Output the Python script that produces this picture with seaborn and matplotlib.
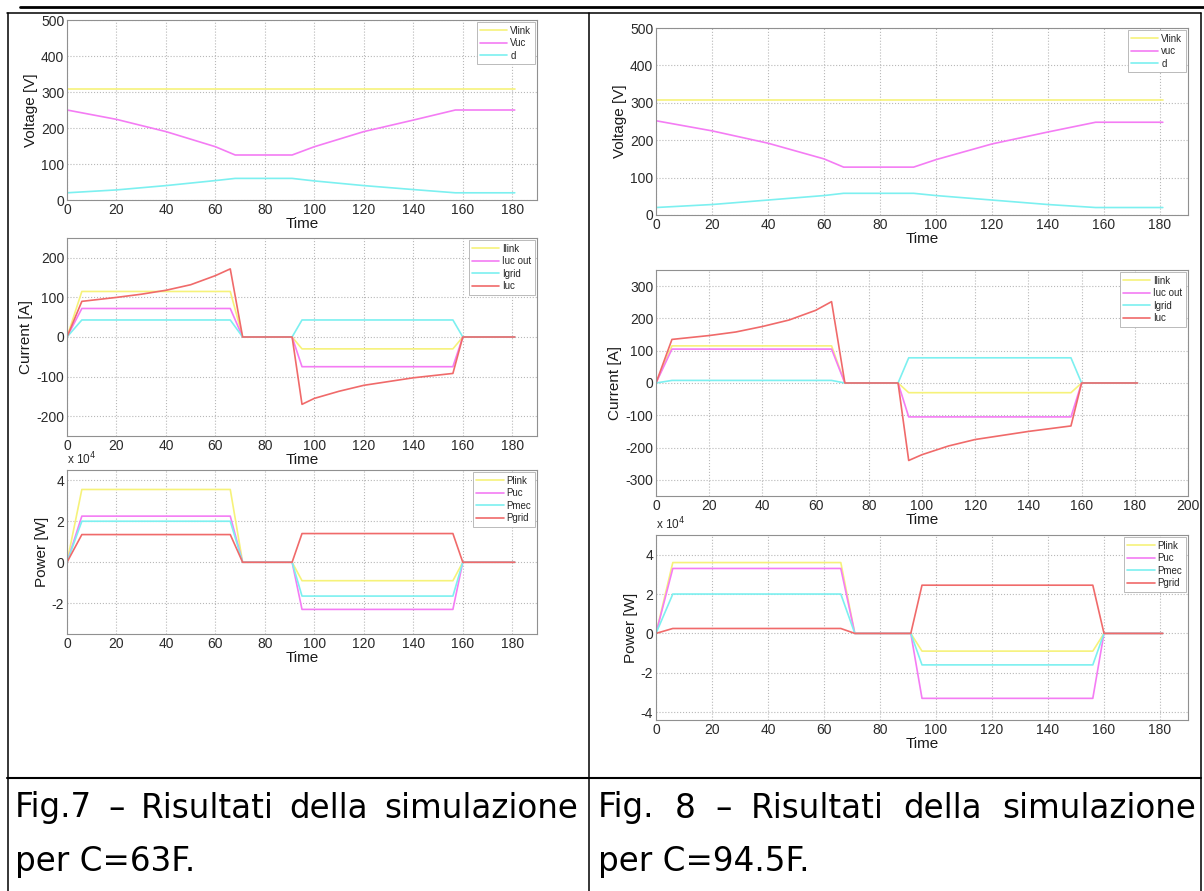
import matplotlib
matplotlib.use("Agg")
import matplotlib.pyplot as plt
import seaborn as sns
from matplotlib.lines import Line2D
from matplotlib.ticker import FuncFormatter

# ---- Fig.7  (C = 63F) ----
t_vlink = [0, 181]
vlink7 = [308, 308]
t_v7 = [0, 20, 40, 60, 68, 91, 100, 120, 140, 157, 181]
vuc7 = [250, 224, 190, 148, 125, 125, 148, 190, 222, 250, 250]
d7 = [20, 28, 40, 54, 60, 60, 53, 40, 29, 20, 20]

t_step = [0, 6, 66, 71, 91, 95, 156, 160, 181]
ilink7 = [0, 115, 115, 0, 0, -30, -30, 0, 0]
iucout7 = [0, 72, 72, 0, 0, -75, -75, 0, 0]
igrid7 = [0, 43, 43, 0, 0, 43, 43, 0, 0]
t_iuc7 = [0, 6, 20, 30, 40, 50, 60, 66, 71, 91, 95, 100, 110, 120, 140, 156, 160, 181]
iuc7 = [0, 90, 100, 108, 118, 132, 155, 172, 0, 0, -170, -155, -137, -122, -103, -92, 0, 0]

plink7 = [0, 35500, 35500, 0, 0, -9000, -9000, 0, 0]
puc7 = [0, 22500, 22500, 0, 0, -23000, -23000, 0, 0]
pmec7 = [0, 20000, 20000, 0, 0, -16500, -16500, 0, 0]
pgrid7 = [0, 13500, 13500, 0, 0, 14000, 14000, 0, 0]

# ---- Fig.8  (C = 94.5F) ----
vlink8 = [308, 308]
t_v8 = [0, 20, 40, 60, 67, 92, 100, 120, 140, 157, 181]
vuc8 = [252, 225, 192, 150, 128, 128, 148, 190, 222, 248, 248]
d8 = [20, 28, 40, 52, 58, 58, 52, 40, 28, 20, 20]

ilink8 = [0, 115, 115, 0, 0, -30, -30, 0, 0]
iucout8 = [0, 105, 105, 0, 0, -105, -105, 0, 0]
igrid8 = [0, 8, 8, 0, 0, 78, 78, 0, 0]
t_iuc8 = [0, 6, 20, 30, 40, 50, 60, 66, 71, 91, 95, 100, 110, 120, 140, 156, 160, 181]
iuc8 = [0, 135, 147, 158, 175, 195, 225, 252, 0, 0, -240, -222, -195, -175, -150, -133, 0, 0]

plink8 = [0, 36000, 36000, 0, 0, -9000, -9000, 0, 0]
puc8 = [0, 33000, 33000, 0, 0, -33000, -33000, 0, 0]
pmec8 = [0, 20000, 20000, 0, 0, -16000, -16000, 0, 0]
pgrid8 = [0, 2500, 2500, 0, 0, 24500, 24500, 0, 0]

caption7 = ["Fig.7 – Risultati della simulazione", "per C=63F."]
caption8 = ["Fig. 8 – Risultati della simulazione", "per C=94.5F."]

YEL, MAG, CYA, RED = "#f6f27a", "#f47cf4", "#7cf0f0", "#f06a6a"

sns.set_style("white")
plt.rcParams["font.family"] = ["Liberation Sans", "DejaVu Sans"]
plt.rcParams["axes.unicode_minus"] = False

W, H = 1204, 891
fig = plt.figure(figsize=(W / 100, H / 100), dpi=100)


def box(l, t, r, b):
    return [l / W, 1 - b / H, (r - l) / W, (b - t) / H]


def style(ax, xlim, ylim, yticks, ylabel, xticks):
    ax.set_xlim(*xlim)
    ax.set_ylim(*ylim)
    ax.set_yticks(yticks)
    ax.set_xticks(xticks)
    ax.grid(True, linestyle=":", color="#b8b8b8", linewidth=0.8)
    for s in ax.spines.values():
        s.set_color("#909090")
        s.set_linewidth(0.8)
    ax.tick_params(direction="in", length=3, color="#909090", labelsize=10,
                   labelcolor="#2a2a2a", pad=2)
    ax.set_xlabel("Time", fontsize=11, labelpad=0, color="#1a1a1a")
    ax.set_ylabel(ylabel, fontsize=11, labelpad=2, color="#1a1a1a")
    leg = ax.legend(loc="upper right", fontsize=7, handlelength=2.8,
                    labelspacing=0.25, borderpad=0.35, handletextpad=0.3,
                    borderaxespad=0.25, fancybox=False, framealpha=1)
    leg.get_frame().set_edgecolor("#b0b0b0")
    leg.get_frame().set_linewidth(0.6)


def draw(ax, series):
    for t, v, c, lab in series:
        sns.lineplot(x=t, y=v, ax=ax, color=c, label=lab, linewidth=1.2,
                     estimator=None, sort=False)


x180 = [0, 20, 40, 60, 80, 100, 120, 140, 160, 180]
x200 = x180 + [200]
pfmt = FuncFormatter(lambda v, p: f"{v / 1e4:g}")

# left column
ax = fig.add_axes(box(67, 20, 537, 200))
draw(ax, [(t_vlink, vlink7, YEL, "Vlink"), (t_v7, vuc7, MAG, "Vuc"), (t_v7, d7, CYA, "d")])
style(ax, (0, 190), (0, 500), [0, 100, 200, 300, 400, 500], "Voltage [V]", x180)

ax = fig.add_axes(box(67, 238, 537, 436))
draw(ax, [(t_step, ilink7, YEL, "Ilink"), (t_step, iucout7, MAG, "Iuc out"),
          (t_step, igrid7, CYA, "Igrid"), (t_iuc7, iuc7, RED, "Iuc")])
style(ax, (0, 190), (-250, 250), [-200, -100, 0, 100, 200], "Current [A]", x180)

ax = fig.add_axes(box(67, 470, 537, 634))
draw(ax, [(t_step, plink7, YEL, "Plink"), (t_step, puc7, MAG, "Puc"),
          (t_step, pmec7, CYA, "Pmec"), (t_step, pgrid7, RED, "Pgrid")])
style(ax, (0, 190), (-35000, 45000), [-20000, 0, 20000, 40000], "Power [W]", x180)
ax.yaxis.set_major_formatter(pfmt)
ax.text(0, 1.015, r"x 10$^4$", transform=ax.transAxes, fontsize=8.5, va="bottom", color="#2a2a2a")

# right column
ax = fig.add_axes(box(656, 28, 1188, 215))
draw(ax, [(t_vlink, vlink8, YEL, "Vlink"), (t_v8, vuc8, MAG, "vuc"), (t_v8, d8, CYA, "d")])
style(ax, (0, 190), (0, 500), [0, 100, 200, 300, 400, 500], "Voltage [V]", x180)

ax = fig.add_axes(box(656, 270, 1188, 496))
draw(ax, [(t_step, ilink8, YEL, "Ilink"), (t_step, iucout8, MAG, "Iuc out"),
          (t_step, igrid8, CYA, "Igrid"), (t_iuc8, iuc8, RED, "Iuc")])
style(ax, (0, 200), (-350, 350), [-300, -200, -100, 0, 100, 200, 300], "Current [A]", x200)

ax = fig.add_axes(box(656, 535, 1188, 720))
draw(ax, [(t_step, plink8, YEL, "Plink"), (t_step, puc8, MAG, "Puc"),
          (t_step, pmec8, CYA, "Pmec"), (t_step, pgrid8, RED, "Pgrid")])
style(ax, (0, 190), (-44000, 50000), [-40000, -20000, 0, 20000, 40000], "Power [W]", x180)
ax.yaxis.set_major_formatter(pfmt)
ax.text(0, 1.015, r"x 10$^4$", transform=ax.transAxes, fontsize=8.5, va="bottom", color="#2a2a2a")


# table rules
def hline(y, x0, x1, lw):
    fig.add_artist(Line2D([x0 / W, x1 / W], [1 - y / H, 1 - y / H], color="black",
                          linewidth=lw, transform=fig.transFigure))


def vline(x, y0, y1, lw):
    fig.add_artist(Line2D([x / W, x / W], [1 - y0 / H, 1 - y1 / H], color="black",
                          linewidth=lw, transform=fig.transFigure))


hline(6.5, 20, 1204, 2.0)
hline(13, 7, 1201, 1.1)
hline(778, 7, 1201, 1.5)
vline(7.5, 13, 891, 1.1)
vline(589, 13, 891, 1.1)
vline(1201, 13, 891, 1.1)

# captions (first line justified across the cell)
CAP_FS = 23.5
cap_font = ["DejaVu Sans"]


def justified(text, x0, x1, y):
    words = text.split(" ")
    arts = [fig.text(0, 1 - y / H, w, fontsize=CAP_FS, family=cap_font, va="center",
                     color="black") for w in words]
    fig.canvas.draw()
    r = fig.canvas.get_renderer()
    widths = [a.get_window_extent(r).width for a in arts]
    gap = (x1 - x0 - sum(widths)) / (len(words) - 1)
    x = x0
    for a, w in zip(arts, widths):
        a.set_x(x / W)
        x += w + gap


justified(caption7[0], 15, 578, 808)
justified(caption8[0], 598, 1196, 808)
fig.text(15 / W, 1 - 862 / H, caption7[1], fontsize=CAP_FS, family=cap_font, va="center",
         color="black")
fig.text(598 / W, 1 - 862 / H, caption8[1], fontsize=CAP_FS, family=cap_font, va="center",
         color="black")

fig.savefig("out.png", dpi=100, facecolor="white")
